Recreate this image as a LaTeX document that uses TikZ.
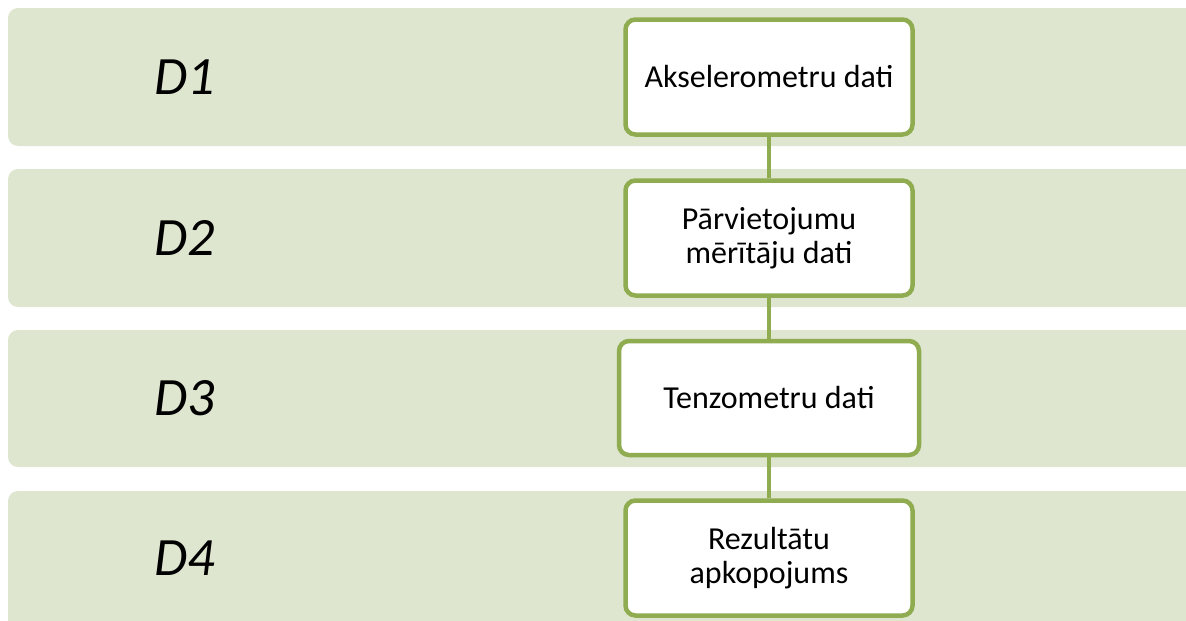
\documentclass[tikz,border=0pt]{standalone}
\usepackage{fontspec}
\setmainfont{Carlito}
\definecolor{bandgreen}{HTML}{DEE6D0}
\definecolor{olivegreen}{HTML}{8FAC50}

\tikzset{
  band/.style={fill=bandgreen, rounded corners=10pt},
  level/.style={font=\fontsize{54}{60}\selectfont\itshape},
  stage/.style={draw=olivegreen, line width=4.5pt, fill=white, rounded corners=10pt,
    align=center, inner sep=0pt, minimum width=287pt, minimum height=115pt,
    font=\fontsize{32}{34}\selectfont},
  link/.style={draw=olivegreen, line width=4.5pt}
}

\begin{document}
\begin{tikzpicture}[x=1pt,y=-1pt]

 % Page frame
 \clip (0,0) rectangle (1186,621);

 % Background bands
 \fill [band] (8,8) rectangle (1200,146);
 \fill [band] (8,169) rectangle (1200,307);
 \fill [band] (8,330) rectangle (1200,467);
 \fill [band] (8,491) rectangle (1200,630);

 % Level labels
 \node [level] (d1) at (185,77) {D1};
 \node [level] (d2) at (185,238) {D2};
 \node [level] (d3) at (185,398) {D3};
 \node [level] (d4) at (185,558) {D4};

 % Data stages
 \node [stage] (accel) at (769,77) {Akselerometru dati};
 \node [stage] (displ) at (769,238) {Pārvietojumu\\mērītāju dati};
 \node [stage, minimum width=300pt, minimum height=114pt] (strain) at (769,398) {Tenzometru dati};
 \node [stage] (summary) at (769,558) {Rezultātu\\apkopojums};

 % Links between stages
 \draw [link] (accel.south) -- (displ.north);
 \draw [link] (displ.south) -- (strain.north);
 \draw [link] (strain.south) -- (summary.north);

\end{tikzpicture}
\end{document}
